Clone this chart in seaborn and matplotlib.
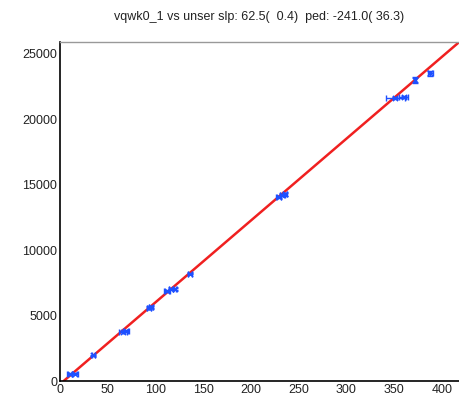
import matplotlib
matplotlib.use("Agg")
import matplotlib.pyplot as plt
import seaborn as sns
import numpy as np
import pandas as pd
from matplotlib.ticker import MultipleLocator

sns.set_style("white")
plt.rcParams['font.family'] = ['Liberation Sans', 'DejaVu Sans']

# data
unser = [10, 16, 35, 66, 69, 93, 95, 112, 116, 120, 136, 229, 233, 236, 351, 360, 372, 388]
vqwk = [520, 560, 1950, 3780, 3800, 5560, 5620, 6850, 7000, 7050, 8200, 14050, 14200, 14250, 21650, 21700, 23000, 23500]
unser_err = [3, 3, 2, 4, 3, 2, 2, 3, 2, 2, 2, 3, 3, 2, 10, 5, 1, 3]
vqwk_err = [60, 60, 60, 60, 60, 80, 80, 80, 80, 80, 60, 100, 100, 100, 80, 80, 250, 200]
fit_slope = 62.5
fit_ped = -241.0
title = "vqwk0_1 vs unser slp: 62.5(  0.4)  ped: -241.0( 36.3)"
x_max = 418
y_max = 25900

df = pd.DataFrame({"unser": unser, "vqwk": vqwk})
fit_x = np.array([-fit_ped / fit_slope, x_max])
fit_df = pd.DataFrame({"x": fit_x, "y": fit_slope * fit_x + fit_ped})

fig = plt.figure(figsize=(4.59, 4.01), dpi=100)
ax = fig.add_axes([60/459, 1 - 381/401, (459-60)/459, (381-42)/401])

sns.lineplot(data=fit_df, x="x", y="y", ax=ax, color="#f02020", lw=1.8, zorder=2)
ax.errorbar(unser, vqwk, xerr=unser_err, yerr=vqwk_err, fmt="none",
            ecolor="#1e50ff", elinewidth=1.0, capsize=2, capthick=1.0, zorder=3)
sns.scatterplot(data=df, x="unser", y="vqwk", ax=ax, color="#1e50ff", marker="x",
                s=14, linewidth=1.2, zorder=4)

ax.set_xlim(0, x_max)
ax.set_ylim(0, y_max)
ax.set_xlabel("")
ax.set_ylabel("")
ax.set_title(title, fontsize=9, pad=16, color="#222222")

ax.xaxis.set_major_locator(MultipleLocator(50))
ax.xaxis.set_minor_locator(MultipleLocator(10))
ax.yaxis.set_major_locator(MultipleLocator(5000))
ax.yaxis.set_minor_locator(MultipleLocator(1000))
ax.tick_params(axis="both", which="major", direction="in", length=10, width=1.0,
               labelsize=9, colors="black", labelcolor="#222222", pad=2)
ax.tick_params(axis="both", which="minor", direction="in", length=5, width=1.0, colors="black")
ax.tick_params(top=False, right=False, which="both")

for s in ["left", "bottom"]:
    ax.spines[s].set_color("black")
    ax.spines[s].set_linewidth(1.2)
ax.spines["top"].set_color("#999999")
ax.spines["top"].set_linewidth(1.0)
ax.spines["right"].set_visible(False)
ax.grid(False)

fig.savefig("out.png", dpi=100)
